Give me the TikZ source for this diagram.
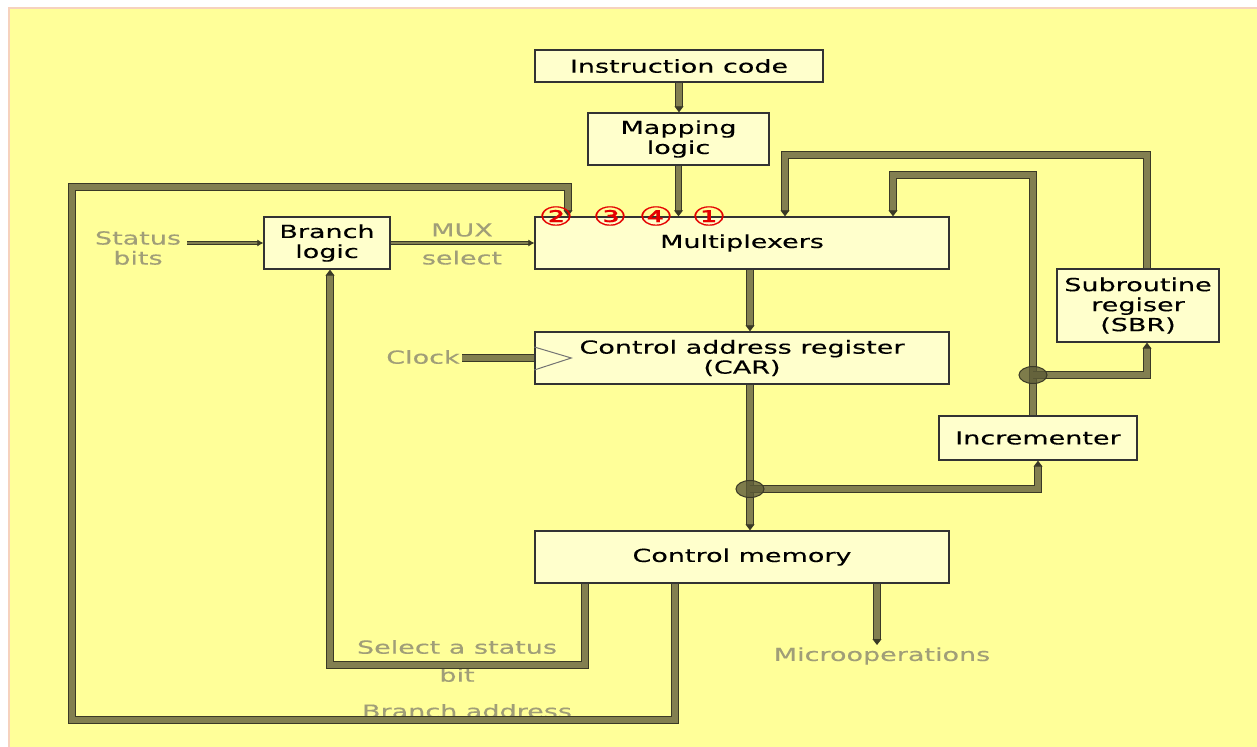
\documentclass[tikz,border=0pt]{standalone}
\usepackage{fontspec}
\setmainfont{DejaVu Sans}[FakeStretch=1.5, FakeBold=0.3]
\usetikzlibrary{arrows.meta,shapes.geometric}
\definecolor{bgyellow}{HTML}{FFFF99}
\definecolor{boxfill}{HTML}{FFFFCC}
\definecolor{pipefill}{HTML}{827F50}
\definecolor{pipeedge}{HTML}{3A3926}
\definecolor{labelgray}{HTML}{A09E78}
\definecolor{jointfill}{HTML}{5E5C38}
\definecolor{framepink}{HTML}{F6D2BE}
\begin{document}
\begin{tikzpicture}[x=0.5pt, y=-0.5pt,
  every node/.style = {font=\fontsize{9}{10}\selectfont, align=center, inner sep=0pt},
  box/.style = {shape=rectangle, draw=black!80, line width=0.7pt, fill=boxfill},
  pipe/.style = {draw=pipeedge, line width=0.45pt, double=pipefill, double distance=2.8pt, line join=miter},
  thinpipe/.style = {draw=pipeedge, line width=0.35pt, double=pipefill, double distance=1.4pt},
  pipetip/.style = {-{Triangle[length=3pt, width=4.5pt]}},
  smalltip/.style = {-{Latex[length=3pt, width=3.5pt]}},
  sig/.style = {text=labelgray},
  num/.style = {text=red!90!black, font=\fontsize{13}{13}\selectfont},
  joint/.style = {shape=ellipse, draw=pipeedge, fill=jointfill, fill opacity=0.8, line width=0.5pt, minimum width=14pt, minimum height=8.5pt}]
\useasboundingbox (0,0) rectangle (1257,747);
\fill[white] (0,0) rectangle (1257,747);
\filldraw[fill=bgyellow, draw=framepink, line width=1pt] (9,8) rectangle (1265,755);
% boxes
\node[box, minimum width=144pt, minimum height=16pt] (instr) at (679,66) {Instruction code};
\node[box, minimum width=90.5pt, minimum height=26pt] (mapping) at (678.5,139) {Mapping\\logic};
\node[box, minimum width=207pt, minimum height=26pt] (mux) at (742,243) {Multiplexers};
\node[box, minimum width=63pt, minimum height=26pt] (branch) at (327,243) {Branch\\logic};
\node[box, minimum width=207pt, minimum height=26pt] (car) at (742,358) {Control address register\\(CAR)};
\node[box, minimum width=99pt, minimum height=22pt] (incr) at (1038,438) {Incrementer};
\node[box, minimum width=81pt, minimum height=36.5pt] (sbr) at (1138,305.5) {Subroutine\\regiser\\(SBR)};
\node[box, minimum width=207pt, minimum height=26pt] (cm) at (742,557) {Control memory};
% labels
\node[sig] (status) at (138,248) {Status\\bits};
\node[sig] (muxsel) at (462,244) {MUX\\[4pt]select};
\node[sig] (clock) at (423,357) {Clock};
\node[sig] (selbit) at (457,661) {Select a status\\[4pt]bit};
\node[sig] (braddr) at (467,711) {Branch address};
\node[sig] (micro) at (882,656) {Microoperations};
% corners
\coordinate (ba1) at (675,720);
\coordinate (ba2) at (72,720);
\coordinate (ba3) at (72,187);
\coordinate (ba4) at (568,187);
\coordinate (sb1) at (585,665);
\coordinate (sb2) at (330,665);
\coordinate (cj) at (750,489);
\coordinate (ij) at (1033,375);
\coordinate (ic1) at (1033,175);
\coordinate (ic2) at (893,175);
\coordinate (sc1) at (1147,375);
\coordinate (sr1) at (1147,155);
\coordinate (sr2) at (785,155);
\coordinate (mo) at (877,645);
% pipes
\draw[pipe, pipetip] (instr.south) -- (instr.south |- mapping.north);
\draw[pipe, pipetip] (mapping.south) -- (mapping.south |- mux.north);
\draw[pipe, pipetip] (cm.south -| ba1) -- (ba1) -- (ba2) -- (ba3) -- (ba4) -- (ba4 |- mux.north);
\draw[pipe, pipetip] (cm.south -| sb1) -- (sb1) -- (sb2) -- (sb2 |- branch.south);
\draw[thinpipe, smalltip] ([xshift=3pt]status.east |- branch.west) -- (branch.west);
\draw[thinpipe, smalltip] (branch) -- (mux);
\draw[pipe] ([xshift=1pt]clock.east |- car.west) -- (car.west);
\draw[black!55, line width=0.5pt] ([yshift=5.5pt]car.west) -- ([xshift=18.5pt]car.west) -- ([yshift=-6pt]car.west);
\draw[pipe, pipetip] (mux.south -| cj) -- (car.north -| cj);
\draw[pipe, pipetip] (car.south -| cj) -- (cm.north -| cj);
\draw[pipe, pipetip] (cj) -- (cj -| incr.south) -- (incr.south);
\draw[pipe, pipetip] (incr.north -| ij) -- (ic1) -- (ic2) -- (ic2 |- mux.north);
\draw[pipe, pipetip] (ij) -- (sc1) -- (sbr.south -| sc1);
\draw[pipe, pipetip] (sbr.north -| sc1) -- (sr1) -- (sr2) -- (sr2 |- mux.north);
\draw[pipe, pipetip] (cm.south -| mo) -- (mo);
\node[joint] (jcar) at (cj) {};
\node[joint] (jinc) at (ij) {};
% mux inputs
\node[num] (in2) at (556,216) {②};
\node[num] (in3) at (610,216) {③};
\node[num] (in4) at (656,216) {④};
\node[num] (in1) at (709,216) {①};
\end{tikzpicture}
\end{document}
